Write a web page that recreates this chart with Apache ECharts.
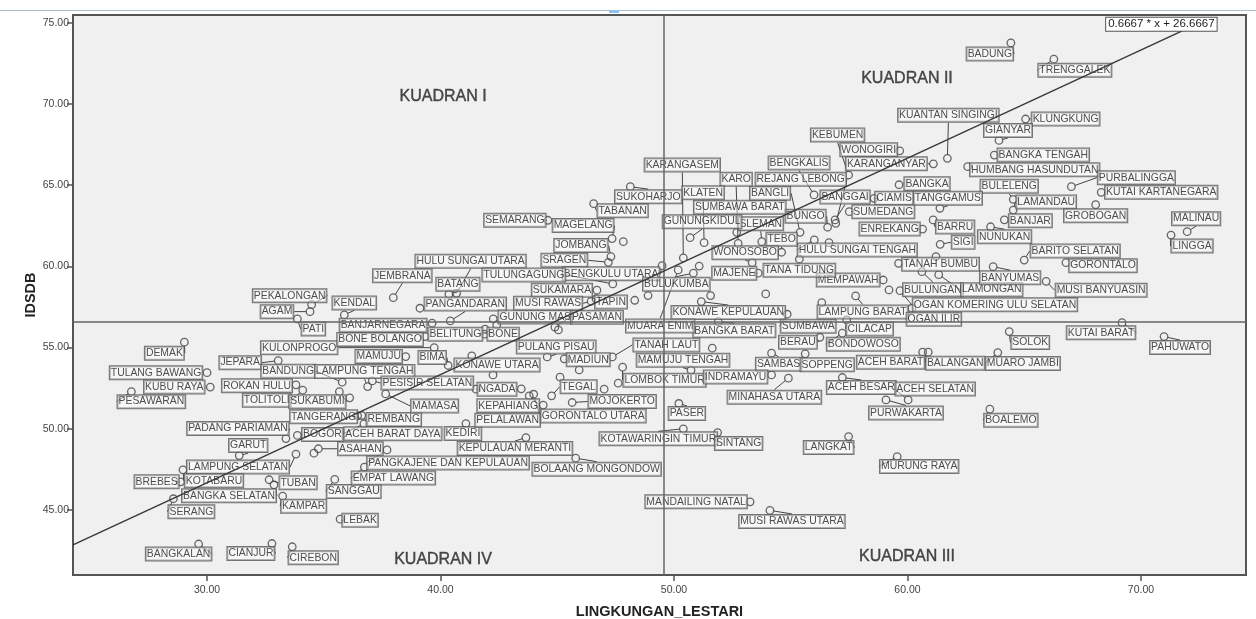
<!DOCTYPE html>
<html>
<head>
<meta charset="utf-8">
<style>html,body{margin:0;padding:0;background:#fff}#c{width:1256px;height:619px}</style>
<script src="https://cdn.jsdelivr.net/npm/echarts@6/dist/echarts.min.js"></script>
</head>
<body>
<div id="c"></div>
<script>
const names = [
"PEKALONGAN","AGAM","PATI","KENDAL","DEMAK","JEPARA","TULANG BAWANG","KUBU RAYA","PESAWARAN","KULONPROGO",
"BANDUNG","LAMPUNG TENGAH","ROKAN HULU","TOLITOLI","SUKABUMI","TANGERANG","PADANG PARIAMAN","BOGOR","REMBANG","ACEH BARAT DAYA",
"ASAHAN","KEDIRI","GARUT","LAMPUNG SELATAN","KOTABARU","BREBES","SERANG","BANGKA SELATAN","TUBAN","KAMPAR",
"SANGGAU","EMPAT LAWANG","PANGKAJENE DAN KEPULAUAN","LEBAK","BANGKALAN","CIANJUR","CIREBON","BOLAANG MONGONDOW","MANDAILING NATAL","MUSI RAWAS UTARA",
"KEPULAUAN MERANTI","JEMBRANA","BATANG","HULU SUNGAI UTARA","PANGANDARAN","BANJARNEGARA","BONE BOLANGO","GUNUNG MAS","BELITUNG","BONE",
"PASAMAN","PULANG PISAU","MADIUN","BIMA","KONAWE UTARA","PESISIR SELATAN","MAMASA","NGADA","KEPAHIANG","PELALAWAN",
"GORONTALO UTARA","TEGAL","MOJOKERTO","TANAH LAUT","MAMUJU TENGAH","LOMBOK TIMUR","KONAWE KEPULAUAN","BANGKA BARAT","MUARA ENIM","SUMBAWA",
"BERAU","CILACAP","BONDOWOSO","LAMPUNG BARAT","OGAN KOMERING ULU SELATAN","OGAN ILIR","BULUNGAN","LAMONGAN","TANAH BUMBU","SAMBAS",
"SOPPENG","INDRAMAYU","MINAHASA UTARA","ACEH BARAT","BALANGAN","ACEH BESAR","ACEH SELATAN","PURWAKARTA","PASER","KOTAWARINGIN TIMUR",
"SINTANG","LANGKAT","MURUNG RAYA","SOLOK","MUARO JAMBI","KUTAI BARAT","PAHUWATO","BOALEMO","BADUNG","TRENGGALEK",
"KUANTAN SINGINGI","KLUNGKUNG","GIANYAR","KEBUMEN","WONOGIRI","KARANGANYAR","BENGKALIS","REJANG LEBONG","BANGKA TENGAH","HUMBANG HASUNDUTAN",
"PURBALINGGA","KUTAI KARTANEGARA","BANGKA","BULELENG","LAMANDAU","BANJAR","GROBOGAN","BANGGAI","CIAMIS","TANGGAMUS",
"SUMEDANG","ENREKANG","BARRU","SIGI","NUNUKAN","BARITO SELATAN","GORONTALO","BANYUMAS","MUSI BANYUASIN","MEMPAWAH",
"HULU SUNGAI TENGAH","TANA TIDUNG","TEBO","BUNGO","SLEMAN","SUMBAWA BARAT","BANGLI","KARO","KLATEN","GUNUNGKIDUL",
"KARANGASEM","SUKOHARJO","TABANAN","SEMARANG","MAGELANG","JOMBANG","SRAGEN","BENGKULU UTARA","TULUNGAGUNG","SUKAMARA",
"MUSI RAWAS","TAPIN","BULUKUMBA","WONOSOBO","MAJENE","MALINAU","LINGGA","MAMUJU"
];
const lingkungan = [
34.48,34.41,33.87,35.88,29.03,33.05,30.00,30.14,26.76,39.73,
35.79,36.88,33.81,34.10,35.67,36.45,33.38,33.87,36.63,36.72,
34.77,41.09,31.38,33.81,28.97,28.87,28.56,32.87,32.66,33.24,
35.47,36.74,37.71,35.70,29.64,32.78,33.65,45.79,53.26,54.11,
43.66,37.98,40.36,40.69,40.42,39.64,39.34,42.26,41.88,41.91,
44.90,44.57,45.30,40.33,42.25,37.08,37.65,41.52,43.80,43.99,
44.40,44.76,45.64,47.36,50.73,47.80,51.17,51.90,50.18,54.85,
56.25,57.40,57.21,57.78,59.68,60.19,60.62,61.34,59.62,54.18,
55.62,54.18,54.90,60.65,60.89,57.21,60.03,59.08,50.21,50.40,
51.87,57.48,59.56,64.36,63.87,69.19,70.99,63.53,64.43,66.27,
61.71,65.06,63.92,57.48,59.67,61.11,56.00,56.93,63.72,62.58,
67.02,68.30,59.64,64.53,64.53,64.15,68.06,56.90,58.57,61.39,
57.51,60.65,61.10,61.40,63.56,65.00,66.79,63.67,65.94,58.96,
56.01,55.37,54.61,56.58,53.76,52.69,55.40,52.75,51.29,50.69,
50.40,48.13,46.56,44.60,47.35,47.30,47.19,49.49,47.38,46.70,
46.45,46.66,50.83,53.35,53.61,71.98,71.29,38.51
];
const idsdb = [
57.64,57.21,56.76,57.01,55.33,54.19,53.45,52.56,52.28,54.99,
52.86,52.59,52.70,52.37,52.28,50.79,49.39,49.58,50.81,50.30,
48.76,50.31,48.34,48.43,47.46,46.72,45.68,46.54,46.85,45.84,
46.87,47.63,48.69,44.42,42.89,42.92,42.72,48.18,45.49,44.96,
49.45,58.07,58.28,58.34,56.64,56.50,55.67,56.76,55.82,56.13,
56.25,54.42,54.30,53.89,53.31,52.94,52.14,52.43,52.02,52.12,
51.45,52.02,51.61,54.42,53.60,53.79,57.83,56.59,59.78,57.05,
55.63,56.70,55.88,58.18,58.50,57.42,59.67,59.49,60.19,54.65,
54.61,53.31,53.11,54.71,54.71,53.15,51.77,51.77,51.55,49.99,
49.76,49.51,48.28,55.98,54.69,56.53,55.67,51.20,73.77,72.77,
66.66,69.08,67.76,65.63,67.12,66.32,64.40,62.65,66.86,66.14,
64.91,64.56,65.03,64.13,63.47,62.87,63.80,62.86,64.19,63.58,
63.37,62.30,62.86,61.36,62.44,60.39,60.23,59.98,59.08,59.16,
61.63,60.44,60.87,62.41,61.52,62.10,62.10,61.42,61.46,61.77,
60.52,64.91,63.86,62.84,61.71,60.60,60.25,60.04,58.92,58.53,
57.85,57.99,59.58,60.23,59.58,62.14,61.93,54.44
];
// Points whose labels are hidden behind others in the reference
const hiddenX = [36.11,34.58,56.33,39.12,42.41,45.05,41.34,43.46,45.12,47.01,47.61,45.94,47.83,48.32,48.89,51.08,51.57,53.93,56.64,59.21,61.22,51.64];
const hiddenY = [51.90,48.49,57.76,57.42,56.39,56.08,54.48,52.45,53.17,52.43,52.80,53.62,61.52,57.91,58.20,60.02,58.20,58.30,61.46,58.55,60.60,54.96];
const xTicks = [30,40,50,60,70];
const yTicks = [45,50,55,60,65,70,75];
const meanX = 49.57, meanY = 56.58;
const fitLine = [[24.26,42.84],[72.00,74.67]];
const fitText = "0.6667 * x + 26.6667";
const quadrantNames = ["KUADRAN I","KUADRAN II","KUADRAN III","KUADRAN IV"];
const quadrantX = [40.11,59.98,59.98,40.11];
const quadrantY = [70.49,71.60,42.13,41.94];

// Layout only: label displacement (px) from each point
const labelDx = [
-22,-33,16,10,-20,-38,-51,-36,20,-135,
-54,-3,-39,-36,-22,-34,-48,25,32,29,
42,-3,9,-58,31,-24,18,-45,29,21,
19,29,61,20,-20,-21,21,21,-54,22,
-11,9,9,14,15,-49,-45,42,-29,18,
42,9,24,-16,4,55,49,21,-21,-26,
50,27,50,54,-8,42,27,16,-18,21,
-22,23,21,7,95,22,11,53,42,7,
22,-36,-14,-32,27,19,27,20,8,-25,
21,-20,22,21,25,-21,16,21,-21,21,
1,40,9,-11,-31,-47,-15,-35,49,67,
65,60,28,-4,33,26,0,10,20,8,
34,-33,22,23,14,51,37,17,55,-35,
43,0,0,-22,-1,3,-30,-2,-1,12,
-1,18,29,-33,-29,-30,-44,-51,-89,-35,
-43,15,-17,-7,-24,9,21,-27
];
const labelDy = [
-9,0,10,-12,11,2,0,0,10,0,
-11,-15,1,10,10,1,-10,-1,4,10,
0,10,-10,13,11,0,13,11,3,10,
12,11,13,1,10,10,11,11,0,11,
11,-22,-10,-32,-17,2,3,-2,0,5,
-10,-10,1,-8,-10,2,12,0,10,26,
11,-9,-1,-12,-10,13,11,9,56,12,
5,9,11,16,14,11,18,15,1,11,
11,2,19,10,11,10,-11,13,10,10,
11,11,10,11,11,10,11,11,11,11,
-43,0,-10,-40,-1,0,-32,-44,0,3,
-9,0,-1,-13,-8,1,11,-23,0,-10,
0,0,7,-2,10,-9,3,11,9,0,
10,11,-13,-11,-18,-25,-39,-64,-50,-16,
-93,10,7,0,-13,-11,-2,8,-9,0,
2,3,11,-10,0,-13,11,0
];

const LINE = '#555';
const FONT = '"Liberation Sans", Arial, sans-serif';
const boxLabel = {
  show: true, fontFamily: FONT, fontSize: 10.4, color: '#222',
  backgroundColor: 'rgba(255,255,255,0.55)', borderColor: '#555', borderWidth: 1,
  padding: [1, 1, 0, 1], lineHeight: 12
};
const chart = echarts.init(document.getElementById('c'), null, {renderer: 'canvas'});
chart.setOption({
  animation: false,
  backgroundColor: '#fff',
  graphic: [
    {type: 'rect', shape: {x: 0, y: 10, width: 1256, height: 1}, style: {fill: '#a9bbcd'}, silent: true},
    {type: 'rect', shape: {x: 609, y: 10, width: 10, height: 3}, style: {fill: '#8fc0ee'}, silent: true}
  ],
  grid: {left: 73, right: 10, top: 15, bottom: 44, outerBoundsMode: 'none', show: true, backgroundColor: '#f0f0f0', borderColor: LINE, borderWidth: 2},
  xAxis: {
    type: 'value', min: 24.26, max: 74.5, name: 'LINGKUNGAN_LESTARI', nameLocation: 'middle', nameGap: 29,
    nameTextStyle: {fontFamily: FONT, fontWeight: 'bold', fontSize: 14.5, color: '#222'},
    splitLine: {show: false},
    axisLine: {show: true, onZero: false, lineStyle: {color: LINE, width: 2}},
    axisTick: {show: true, length: 6, customValues: xTicks, lineStyle: {color: LINE, width: 1.5}},
    axisLabel: {customValues: xTicks, formatter: v => v.toFixed(2), fontFamily: FONT, fontSize: 10.5, color: '#444', margin: 10}
  },
  yAxis: {
    type: 'value', min: 40.98, max: 75.49, name: 'IDSDB', nameLocation: 'middle', nameGap: 35, nameMoveOverlap: false,
    nameTextStyle: {fontFamily: FONT, fontWeight: 'bold', fontSize: 14.5, color: '#222'},
    splitLine: {show: false},
    axisLine: {show: true, onZero: false, lineStyle: {color: LINE, width: 2}},
    axisTick: {show: true, length: 6, customValues: yTicks, lineStyle: {color: LINE, width: 1.5}},
    axisLabel: {customValues: yTicks, formatter: v => v.toFixed(2), fontFamily: FONT, fontSize: 10.5, color: '#444', margin: 4}
  },
  series: [
    {
      name: 'kabupaten', type: 'scatter', z: 3,
      data: names.map((n, i) => ({name: n, value: [lingkungan[i], idsdb[i]]})),
      symbol: 'circle', symbolSize: 7.5,
      itemStyle: {color: 'rgba(0,0,0,0)', borderColor: '#444', borderWidth: 1.3},
      label: Object.assign({}, boxLabel, {position: 'inside', formatter: p => p.name}),
      labelLine: {show: true, lineStyle: {color: '#444', width: 1}},
      labelLayout: p => ({dx: labelDx[p.dataIndex], dy: labelDy[p.dataIndex]}),
      emphasis: {disabled: true}
    },
    {
      name: 'hidden', type: 'scatter', z: 3,
      data: hiddenX.map((x, i) => [x, hiddenY[i]]),
      symbol: 'circle', symbolSize: 7.5,
      itemStyle: {color: 'rgba(0,0,0,0)', borderColor: '#444', borderWidth: 1.3},
      emphasis: {disabled: true}
    },
    {
      name: 'fit', type: 'line', zlevel: 1, z: 5, silent: true,
      data: [fitLine[0], {value: fitLine[1], label: Object.assign({}, boxLabel, {
        position: 'left', distance: 0, offset: [29, -4], fontSize: 11.5, formatter: fitText, backgroundColor: '#fff', padding: [1, 2, 0, 2]})}],
      showSymbol: true, symbol: 'circle', symbolSize: 0,
      lineStyle: {color: '#3a3a3a', width: 1.5},
      markLine: {
        silent: true, symbol: 'none', label: {show: false},
        lineStyle: {color: '#666', width: 1.5, type: 'solid'},
        data: [{xAxis: meanX}, {yAxis: meanY}]
      }
    },
    {
      name: 'quadrants', type: 'scatter', z: 6, silent: true, symbolSize: 0,
      data: quadrantNames.map((n, i) => ({name: n, value: [quadrantX[i], quadrantY[i]]})),
      label: {show: true, position: 'inside', formatter: p => p.name, fontFamily: FONT, fontSize: 16, color: '#222', textBorderColor: '#222', textBorderWidth: 0.4}
    }
  ]
});
</script>
</body>
</html>
